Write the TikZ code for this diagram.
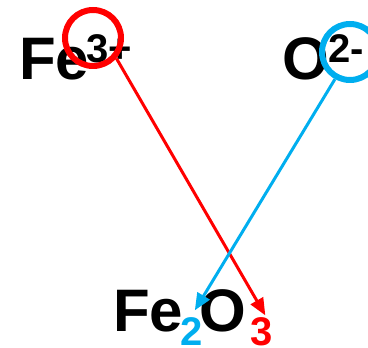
\documentclass[tikz,border=0pt]{standalone}
\usepackage{fontspec}
\setmainfont{Liberation Sans}
\usetikzlibrary{arrows.meta}
\definecolor{ionred}{RGB}{255,0,0}
\definecolor{ionblue}{RGB}{0,174,239}

\begin{document}
\begin{tikzpicture}[x=1pt,y=1pt,
  big/.style={inner sep=0pt,anchor=base west,font=\fontsize{60}{60}\selectfont\bfseries},
  small/.style={inner sep=0pt,anchor=base west,font=\fontsize{40}{40}\selectfont\bfseries},
  ring/.style={circle,draw,line width=6pt,minimum size=56pt,inner sep=0pt},
  swap/.style={line width=3pt,-{Triangle[length=17pt,width=14pt]}}]
  \useasboundingbox (0,0) rectangle (368,348);

  % ions (top row)
  \node[big]   (fe)       at (19,268)  {Fe};
  \node[small] (fecharge) at (86,285)  {3+};
  \node[big]   (o)        at (282,268) {O};
  \node[small] (ocharge)  at (328,285) {2-};

  % formula (bottom)
  \node[big]                (fetwo)  at (113,16)  {Fe};
  \node[small,text=ionblue] (two)    at (180,2)   {2};
  \node[big]                (othree) at (199,16)  {O};
  \node[small,text=ionred]  (three)  at (250,2)   {3};

  % rings round the charges
  \node[ring,draw=ionred]  (fering) at (93,310)  {};
  \node[ring,draw=ionblue] (oring)  at (350,296) {};

  % charges cross over
  \draw[swap,ionred]  (fering.-41) -- ([shift={(4pt,2.5pt)}]three.north);
  \draw[swap,ionblue] (oring.241)  -- ([shift={(3.5pt,7.5pt)}]two.north);
\end{tikzpicture}
\end{document}
